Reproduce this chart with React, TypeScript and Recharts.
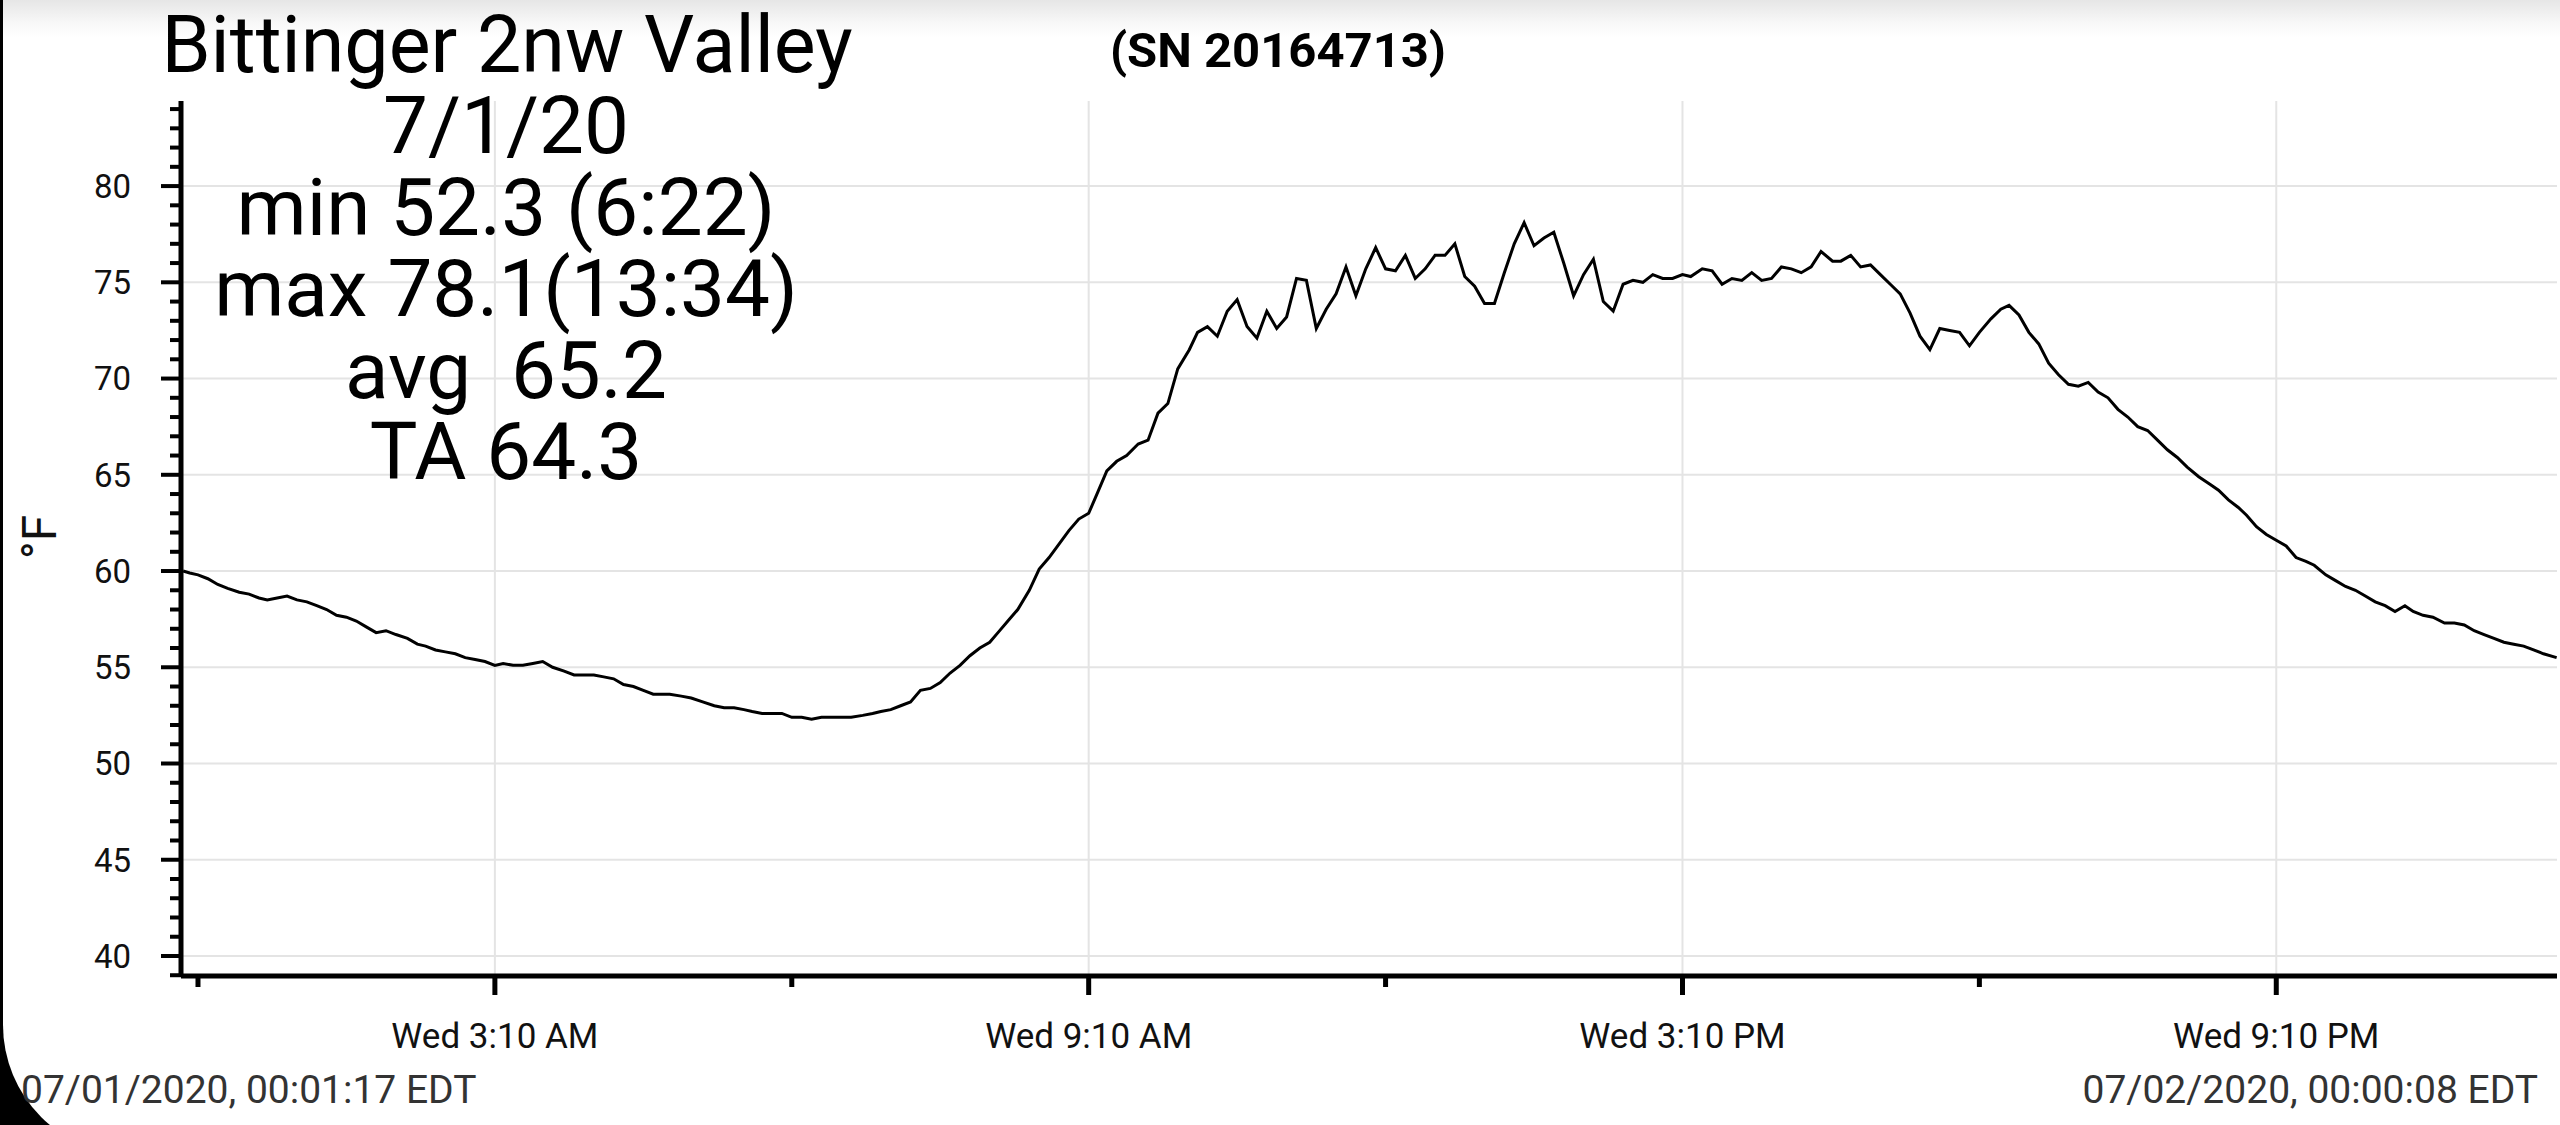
import React from 'react';
import { LineChart, Line, XAxis, YAxis, CartesianGrid } from 'recharts';

// Logger readings, time in minutes after midnight (7/1/20), temperature in °F
const NIGHT_MIN = [1, 5, 10, 16, 22, 28, 35, 41, 47, 52, 58, 64, 70, 76, 82, 88, 94, 100, 106, 112, 118, 124, 130, 137, 143, 148, 154, 160, 166, 172, 178, 184, 190, 195, 201, 207, 213, 219, 225, 232, 238, 244, 250, 256, 262, 268, 274, 280, 286, 296, 303, 309, 316, 323, 329, 335, 341, 346, 352, 358];
const NIGHT_F = [60.0, 59.9, 59.8, 59.6, 59.3, 59.1, 58.9, 58.8, 58.6, 58.5, 58.6, 58.7, 58.5, 58.4, 58.2, 58.0, 57.7, 57.6, 57.4, 57.1, 56.8, 56.9, 56.7, 56.5, 56.2, 56.1, 55.9, 55.8, 55.7, 55.5, 55.4, 55.3, 55.1, 55.2, 55.1, 55.1, 55.2, 55.3, 55.0, 54.8, 54.6, 54.6, 54.6, 54.5, 54.4, 54.1, 54.0, 53.8, 53.6, 53.6, 53.5, 53.4, 53.2, 53.0, 52.9, 52.9, 52.8, 52.7, 52.6, 52.6];

const MORNING_MIN = [364, 370, 376, 382, 388, 394, 400, 406, 413, 419, 424, 430, 436, 442, 448, 454, 460, 466, 472, 478, 484, 490, 495, 501, 507, 514, 520, 526, 532, 538, 544, 550, 555, 561, 567, 573, 580, 586, 592, 598, 604, 611, 616, 622, 628, 634, 640, 646, 652, 658, 664, 670, 676, 682, 688, 694, 700, 706, 712, 718];
const MORNING_F = [52.6, 52.4, 52.4, 52.3, 52.4, 52.4, 52.4, 52.4, 52.5, 52.6, 52.7, 52.8, 53.0, 53.2, 53.8, 53.9, 54.2, 54.7, 55.1, 55.6, 56.0, 56.3, 56.8, 57.4, 58.0, 59.0, 60.1, 60.7, 61.4, 62.1, 62.7, 63.0, 64.0, 65.2, 65.7, 66.0, 66.6, 66.8, 68.2, 68.7, 70.5, 71.5, 72.4, 72.7, 72.2, 73.5, 74.1, 72.7, 72.1, 73.5, 72.6, 73.2, 75.2, 75.1, 72.6, 73.6, 74.4, 75.8, 74.3, 75.7];

const AFTERNOON_MIN = [724, 730, 736, 742, 748, 754, 760, 766, 772, 778, 784, 790, 796, 802, 808, 814, 820, 826, 832, 838, 844, 850, 856, 862, 868, 874, 880, 886, 892, 898, 904, 910, 915, 922, 928, 934, 940, 946, 952, 958, 964, 970, 976, 982, 988, 994, 1001, 1006, 1012, 1018, 1024, 1030, 1036, 1042, 1048, 1054, 1060, 1066, 1072, 1078];
const AFTERNOON_F = [76.8, 75.7, 75.6, 76.4, 75.2, 75.7, 76.4, 76.4, 77.0, 75.3, 74.8, 73.9, 73.9, 75.5, 77.0, 78.1, 76.9, 77.3, 77.6, 76.0, 74.3, 75.4, 76.2, 74.0, 73.5, 74.9, 75.1, 75.0, 75.4, 75.2, 75.2, 75.4, 75.3, 75.7, 75.6, 74.9, 75.2, 75.1, 75.5, 75.1, 75.2, 75.8, 75.7, 75.5, 75.8, 76.6, 76.1, 76.1, 76.4, 75.8, 75.9, 75.4, 74.9, 74.4, 73.4, 72.2, 71.5, 72.6, 72.5, 72.4];

const EVENING_MIN = [1084, 1090, 1097, 1103, 1108, 1114, 1120, 1126, 1132, 1138, 1144, 1150, 1156, 1162, 1168, 1174, 1180, 1186, 1192, 1198, 1204, 1210, 1216, 1223, 1230, 1235, 1241, 1247, 1252, 1258, 1264, 1270, 1276, 1282, 1288, 1293, 1300, 1306, 1312, 1318, 1324, 1330, 1336, 1342, 1348, 1353, 1359, 1365, 1372, 1378, 1384, 1390, 1396, 1402, 1408, 1414, 1420, 1426, 1432, 1440];
const EVENING_F = [71.7, 72.4, 73.1, 73.6, 73.8, 73.3, 72.4, 71.8, 70.8, 70.2, 69.7, 69.6, 69.8, 69.3, 69.0, 68.4, 68.0, 67.5, 67.3, 66.8, 66.3, 65.9, 65.4, 64.9, 64.5, 64.2, 63.7, 63.3, 62.9, 62.3, 61.9, 61.6, 61.3, 60.7, 60.5, 60.3, 59.8, 59.5, 59.2, 59.0, 58.7, 58.4, 58.2, 57.9, 58.2, 57.9, 57.7, 57.6, 57.3, 57.3, 57.2, 56.9, 56.7, 56.5, 56.3, 56.2, 56.1, 55.9, 55.7, 55.5];

// Axis ticks
const X_MAJOR_TICKS = [190, 550, 910, 1270];
const X_MAJOR_LABELS = ['Wed 3:10 AM', 'Wed 9:10 AM', 'Wed 3:10 PM', 'Wed 9:10 PM'];
const X_MINOR_TICKS = [10, 370, 730, 1090];
const X_DOMAIN = [-0.3, 1440.2];
const Y_MAJOR_TICKS = [40, 45, 50, 55, 60, 65, 70, 75, 80];
const Y_ALL_TICKS = [39, 40, 41, 42, 43, 44, 45, 46, 47, 48, 49, 50, 51, 52, 53, 54, 55, 56, 57, 58, 59, 60, 61, 62, 63, 64, 65, 66, 67, 68, 69, 70, 71, 72, 73, 74, 75, 76, 77, 78, 79, 80, 81, 82, 83, 84];
const Y_DOMAIN = [38.96, 84.42];

// Text
const TITLE = 'Bittinger 2nw Valley';
const SERIAL = '(SN 20164713)';
const STAT_LINES = ['7/1/20', 'min 52.3 (6:22)', 'max 78.1(13:34)', 'avg  65.2', 'TA 64.3'];
const START_STAMP = '07/01/2020, 00:01:17 EDT';
const END_STAMP = '07/02/2020, 00:00:08 EDT';
const Y_UNIT = '°F';

const SEGMENTS: [number[], number[]][] = [
  [NIGHT_MIN, NIGHT_F],
  [MORNING_MIN, MORNING_F],
  [AFTERNOON_MIN, AFTERNOON_F],
  [EVENING_MIN, EVENING_F],
];
const DATA = SEGMENTS.flatMap(([ts, vs]) => ts.map((t, i) => ({ t, f: vs[i] })));
const X_ALL_TICKS = [...X_MINOR_TICKS, ...X_MAJOR_TICKS].sort((a, b) => a - b);

const FONT = 'Roboto, "Noto Sans", sans-serif';

const XTick = (props: any) => {
  const { x, y, payload } = props;
  const idx = X_MAJOR_TICKS.indexOf(payload.value);
  const major = idx >= 0;
  return (
    <g>
      <line x1={x} x2={x} y1={y} y2={y + (major ? 19 : 11)} stroke="#000" strokeWidth={5} />
      {major && (
        <text x={x} y={y + 72} textAnchor="middle" fontSize={35} fontFamily={FONT} fill="#111">
          {X_MAJOR_LABELS[idx]}
        </text>
      )}
    </g>
  );
};

const YTick = (props: any) => {
  const { x, y, payload } = props;
  const major = Y_MAJOR_TICKS.includes(payload.value);
  return (
    <g>
      <line x1={x - (major ? 20 : 11)} x2={x} y1={y} y2={y} stroke="#000" strokeWidth={4} />
      {major && (
        <text x={x - 50} y={y} dy="0.36em" textAnchor="end" fontSize={33} fontFamily={FONT} fill="#111">
          {payload.value}
        </text>
      )}
    </g>
  );
};

export default function App() {
  return (
    <div style={{ position: 'absolute', left: 0, top: 0, width: 2560, height: 1125, background: '#000', overflow: 'hidden' }}>
      <div
        style={{
          position: 'absolute',
          left: 3,
          top: 0,
          width: 2557,
          height: 1155,
          borderBottomLeftRadius: 130,
          background: 'linear-gradient(to bottom, #e6e6e6 0px, #f7f7f7 22px, #ffffff 38px)',
        }}
      />
      <div style={{ position: 'absolute', left: 0, top: 0 }}>
        <LineChart width={2560} height={1125} data={DATA} margin={{ top: 101, right: 3, bottom: 0, left: 0 }}>
          <CartesianGrid
            stroke="#e4e4e4"
            strokeWidth={2}
            horizontalValues={Y_MAJOR_TICKS}
            verticalValues={X_MAJOR_TICKS}
          />
          <XAxis
            type="number"
            dataKey="t"
            domain={X_DOMAIN}
            ticks={X_ALL_TICKS}
            interval={0}
            height={149}
            tickSize={0}
            tickMargin={0}
            tickLine={false}
            tick={XTick}
            axisLine={{ stroke: '#000', strokeWidth: 5 }}
            allowDataOverflow
          />
          <YAxis
            type="number"
            domain={Y_DOMAIN}
            ticks={Y_ALL_TICKS}
            interval={0}
            width={181}
            tickSize={0}
            tickMargin={0}
            tickLine={false}
            tick={YTick}
            axisLine={{ stroke: '#000', strokeWidth: 5 }}
            allowDataOverflow
          />
          <Line
            type="linear"
            dataKey="f"
            stroke="#000"
            strokeWidth={3}
            dot={false}
            activeDot={false}
            isAnimationActive={false}
          />
        </LineChart>
      </div>
      <svg
        width={2560}
        height={1125}
        style={{ position: 'absolute', left: 0, top: 0, pointerEvents: 'none' }}
        fontFamily={FONT}
      >
        <text x={507} y={72} textAnchor="middle" fontSize={79} fill="#000">{TITLE}</text>
        <text x={1278} y={67} textAnchor="middle" fontSize={49} fontWeight="bold" fill="#000">{SERIAL}</text>
        {STAT_LINES.map((s, i) => (
          <text
            key={s}
            x={506}
            y={153 + i * 81.5}
            textAnchor="middle"
            fontSize={80}
            fill="#000"
            style={{ whiteSpace: 'pre' }}
          >
            {s}
          </text>
        ))}
        <text
          x={0}
          y={0}
          transform="translate(56 537) rotate(-90)"
          textAnchor="middle"
          fontSize={48}
          fill="#111"
        >
          {Y_UNIT}
        </text>
        <text x={21} y={1103} fontSize={39} fill="#333">{START_STAMP}</text>
        <text x={2538} y={1103} textAnchor="end" fontSize={39} fill="#333">{END_STAMP}</text>
      </svg>
    </div>
  );
}
